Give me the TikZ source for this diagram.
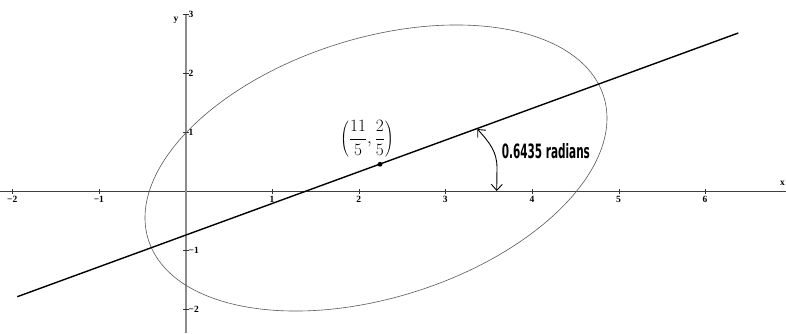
\documentclass[tikz,border=0pt]{standalone}
\usepackage{fontspec}
\usepackage{graphicx}
\setmainfont{Liberation Serif}
\newfontfamily\radfont{DejaVu Sans}
\usetikzlibrary{arrows.meta}
\begin{document}
\begin{tikzpicture}[x=1pt,y=1pt,
  xaxisline/.style={black!75, line width=0.9pt},
  yaxisline/.style={black!45, line width=1.8pt},
  tickmark/.style={black!80, line width=0.8pt},
  ticklab/.style={font=\fontsize{9.5}{11}\selectfont\bfseries, inner sep=0pt},
  mainline/.style={black, line width=1.4pt},
  conic/.style={black!65, line width=0.6pt},
  anglearrow/.style={black, line width=0.9pt, {Straight Barb[length=6pt,width=11pt]}-{Straight Barb[length=6pt,width=11pt]}},
]
\clip (0,0) rectangle (786,333);
\fill[white] (0,0) rectangle (786,333);
% axes
\coordinate (xl) at (0,142);
\coordinate (xr) at (786,142);
\coordinate (yt) at (186,319);
\coordinate (yb) at (186,0);
\draw[xaxisline] (xl) -- (xr);
\draw[yaxisline] (yt) -- (yb);
% x ticks
\foreach \k/\lab in {-2/{−2},-1/{−1},1/1,2/2,3/3,4/4,5/5,6/6}{
  \draw[tickmark] ({186+86.6*\k},139.5) -- ({186+86.6*\k},144.5);
  \node[ticklab, anchor=north] (xt\k) at ({186+86.6*\k-0.5},136.5) {\lab};
}
% y ticks
\foreach \k/\lab in {-2/{−2},-1/{−1},1/1,2/2,3/3}{
  \draw[tickmark] (183,{142+59*\k}) -- (189,{142+59*\k});
  \node[ticklab, anchor=west] (yt\k) at (188.5,{142+59*\k}) {\lab};
}
\node[ticklab] (ylab) at (176,313) {y};
\node[ticklab, anchor=east] (xlab) at (785,150) {x};
% ellipse
\coordinate (ec) at (376,165);
\draw[conic, rotate around={17.5:(ec)}] (ec) ellipse [x radius=238.7, y radius=129.7];
% main line
\coordinate (la) at (17.3,36.3);
\coordinate (lb) at (738.3,300);
\draw[mainline] (la) -- (lb);
% centre point
\node[circle, fill=black, inner sep=0pt, minimum size=4.8pt] (P) at (380,168.7) {};
\node[font=\fontsize{16}{18}\selectfont] (Plab) at (367,194) {$\displaystyle\left(\frac{11}{5},\frac{2}{5}\right)$};
% angle arrow
\coordinate (a1) at (477.3,204);
\coordinate (a2) at (496.7,142);
\draw[anglearrow] (a1) .. controls (490,190) and (497,181) .. (497,165) -- (a2);
\node[anchor=base west, inner sep=0pt] (rad) at (501.7,175) {\resizebox{88pt}{15pt}{\radfont\bfseries 0.6435 radians}};
\end{tikzpicture}
\end{document}
